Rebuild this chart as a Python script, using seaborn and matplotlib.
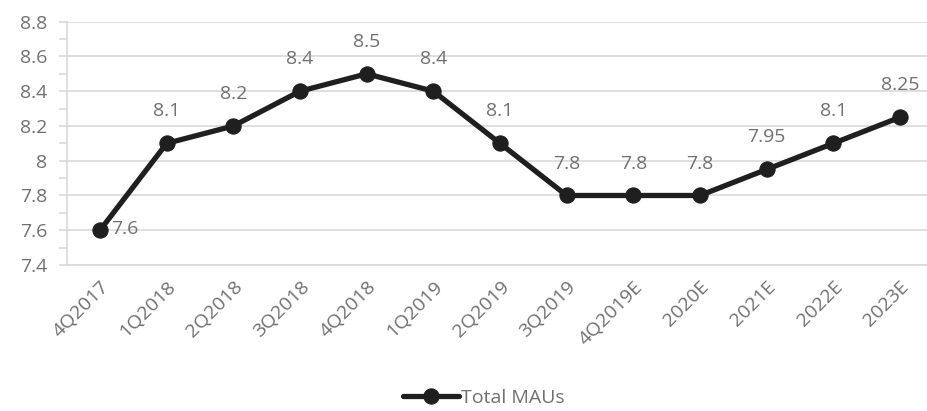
import numpy as np
import pandas as pd
import matplotlib
matplotlib.use("Agg")
import matplotlib.pyplot as plt
from matplotlib.ticker import MultipleLocator, FixedLocator
import seaborn as sns

quarters = ["4Q2017", "1Q2018", "2Q2018", "3Q2018", "4Q2018", "1Q2019", "2Q2019",
            "3Q2019", "4Q2019E", "2020E", "2021E", "2022E", "2023E"]
total_maus = [7.6, 8.1, 8.2, 8.4, 8.5, 8.4, 8.1, 7.8, 7.8, 7.8, 7.95, 8.1, 8.25]
value_labels = ["7.6", "8.1", "8.2", "8.4", "8.5", "8.4", "8.1", "7.8", "7.8", "7.8",
                "7.95", "8.1", "8.25"]
y_ticks = [7.4, 7.6, 7.8, 8.0, 8.2, 8.4, 8.6, 8.8]
y_tick_labels = ["7.4", "7.6", "7.8", "8", "8.2", "8.4", "8.6", "8.8"]

sns.set_theme(style="white")
plt.rcParams["font.family"] = ["Open Sans", "DejaVu Sans"]

text_gray = "#707070"
grid_gray = "#d9d9d9"
line_color = "#1f1f1f"
fs = 14

df = pd.DataFrame({"Quarter": quarters, "Total MAUs": total_maus})

W, H = 928, 411
left_px, right_px, top_px, bottom_px = 66.7, 933.3, 21.7, 265
fig = plt.figure(figsize=(W / 100, H / 100), dpi=100)
ax = fig.add_axes([left_px / W, 1 - bottom_px / H, (right_px - left_px) / W,
                   (bottom_px - top_px) / H])

sns.lineplot(data=df, x="Quarter", y="Total MAUs", sort=False, ax=ax,
             color=line_color, linewidth=3.8, marker="o", markersize=11,
             markeredgecolor=line_color, markerfacecolor=line_color,
             label="Total MAUs", zorder=3)

ax.set_xlim(-0.5, len(quarters) - 0.5)
ax.set_ylim(7.4, 8.8)
ax.set_yticks(y_ticks)
ax.set_yticklabels(y_tick_labels)
ax.yaxis.set_minor_locator(MultipleLocator(0.1))
ax.grid(axis="y", color=grid_gray, linewidth=1.2, zorder=0)
ax.set_axisbelow(True)

ax.set_xticks(range(len(quarters)))
ax.set_xticklabels(quarters, rotation=45, ha="right", rotation_mode="anchor",
                   color=text_gray, fontsize=fs)
ax.xaxis.set_minor_locator(FixedLocator(np.arange(-0.5, len(quarters), 1.0)))
ax.tick_params(axis="x", which="major", length=0, pad=9)
ax.tick_params(axis="x", which="minor", length=6, width=1.2, color=grid_gray, direction="out")
ax.tick_params(axis="y", which="both", length=6, width=1.2, color=grid_gray, direction="out",
               left=True)
ax.tick_params(axis="y", which="major", labelsize=fs, labelcolor=text_gray, pad=8)

ax.set_xlabel("")
ax.set_ylabel("")
for side in ["top", "right"]:
    ax.spines[side].set_visible(False)
for side in ["left", "bottom"]:
    ax.spines[side].set_color(grid_gray)
    ax.spines[side].set_linewidth(1.2)

for i, (v, lab) in enumerate(zip(total_maus, value_labels)):
    if i == 0:
        ax.annotate(lab, (i, v), xytext=(8, 1), textcoords="offset points",
                    ha="left", va="center", color=text_gray, fontsize=fs)
    else:
        ax.annotate(lab, (i, v), xytext=(0, 23), textcoords="offset points",
                    ha="center", va="center", color=text_gray, fontsize=fs)

leg_x = (W / 2 + 20 - left_px) / (right_px - left_px)
leg_y = (bottom_px - 398) / (bottom_px - top_px)
leg = ax.legend(loc="center", bbox_to_anchor=(leg_x, leg_y), frameon=False, fontsize=fs,
                handlelength=2.9, handletextpad=0.1, borderpad=0)
for t in leg.get_texts():
    t.set_color(text_gray)

fig.savefig("out.png", dpi=100)
